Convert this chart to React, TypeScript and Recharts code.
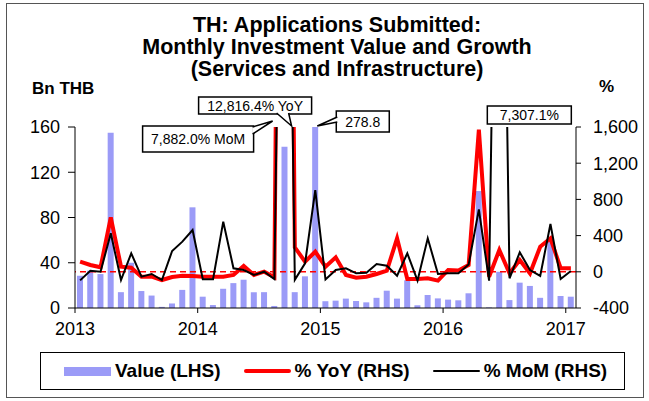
import React from "react";
import {
  ComposedChart,
  Bar,
  Line,
  XAxis,
  YAxis,
  ReferenceLine,
  ReferenceDot,
} from "recharts";

const FONT = "'Liberation Sans', Arial, Helvetica, sans-serif";

// Jan 2013 .. Jan 2017
const months = [
  "2013-01", "2013-02", "2013-03", "2013-04", "2013-05", "2013-06", "2013-07", "2013-08", "2013-09", "2013-10", "2013-11", "2013-12",
  "2014-01", "2014-02", "2014-03", "2014-04", "2014-05", "2014-06", "2014-07", "2014-08", "2014-09", "2014-10", "2014-11", "2014-12",
  "2015-01", "2015-02", "2015-03", "2015-04", "2015-05", "2015-06", "2015-07", "2015-08", "2015-09", "2015-10", "2015-11", "2015-12",
  "2016-01", "2016-02", "2016-03", "2016-04", "2016-05", "2016-06", "2016-07", "2016-08", "2016-09", "2016-10", "2016-11", "2016-12",
  "2017-01",
];

// Bn THB
const value = [
  28.5, 33, 30, 155, 14, 40, 15, 11, 1, 4, 16, 89,
  10, 2.6, 17, 22, 25, 14, 14, 1.8, 142.6, 14, 28, 278.8,
  6, 6.5, 8.3, 6.2, 5, 9, 15.3, 8.3, 24.5, 2.4, 11.5, 8.5,
  7.4, 6.8, 13, 103.4, 0.5, 32, 7, 22.4, 19.5, 9, 60, 10.6,
  10,
];

// % YoY
const yoy = [
  112, 75, 50, 602, 56, 45, -54, -54, -91, -58, -43, -47,
  -54, -54, -54, -35, 64, -35, 1, -60, 12816.4, 270, 112, 222,
  56, 160, -35, -65, -54, -24, 12, 370, -80, -80, -72, -98,
  20, 15, 75, 1570, -54, 241, -17, 130, -17, 277, 370, 39,
  39,
];

// % MoM
const mom = [
  -95, 12, 1, 425, -91, 204, -54, -24, -91, 230, 333, 462,
  -83, -83, 554, 39, 20, -35, 1, -80, 7882.0, -88, 94, 903,
  -85, 20, 39, -17, -10, 86, 67, -43, 204, -98, 370, -24,
  -17, -17, 80, 690, -98, 7307.1, -72, 215, 20, -46, 528, -80,
  9,
];

const yearTicks = [0, 12, 24, 36, 48];
const yearLabels = ["2013", "2014", "2015", "2016", "2017"];
const lhsTicks = [0, 40, 80, 120, 160];
const rhsTicks = [-400, 0, 400, 800, 1200, 1600];

const data = months.map((month, i) => ({
  x: i + 0.5,
  month,
  value: value[i],
  yoy: yoy[i],
  mom: mom[i],
}));

const fmt = (v: number, digits = 0) =>
  v.toLocaleString("en-US", {
    minimumFractionDigits: digits,
    maximumFractionDigits: digits,
  });

const yoyPeak = yoy.indexOf(Math.max(...yoy));
const momPeak = mom.indexOf(Math.max(...mom));
const valuePeak = value.indexOf(Math.max(...value));
const momSecond = mom.indexOf(
  Math.max(...mom.filter((_, i) => i !== momPeak))
);

type Pt = [number, number];

function Callout(props: any) {
  const { cx, cy, text, box, wedge } = props;
  const [x0, y0, x1, y1] = box as number[];
  const w = wedge as Pt[] | undefined;
  return (
    <g>
      <rect
        x={cx + x0}
        y={cy + y0}
        width={x1 - x0}
        height={y1 - y0}
        fill="#fff"
        stroke="#000"
        strokeWidth={1.5}
      />
      {w && (
        <>
          <polygon
            points={w.map(([a, b]) => `${cx + a},${cy + b}`).join(" ")}
            fill="#fff"
          />
          <polyline
            points={[w[0], w[2], w[1]]
              .map(([a, b]) => `${cx + a},${cy + b}`)
              .join(" ")}
            fill="none"
            stroke="#000"
            strokeWidth={1.5}
          />
        </>
      )}
      <text
        x={cx + (x0 + x1) / 2}
        y={cy + (y0 + y1) / 2}
        textAnchor="middle"
        dominantBaseline="central"
        fontSize={14}
        fontFamily={FONT}
        fill="#000"
      >
        {text}
      </text>
    </g>
  );
}

const legendItems = [
  { label: "Value (LHS)", kind: "bar", color: "#9b9bf7" },
  { label: "% YoY (RHS)", kind: "line", color: "#ff0000", width: 4 },
  { label: "% MoM (RHS)", kind: "line", color: "#000000", width: 2 },
];

export default function App() {
  return (
    <div
      style={{
        position: "absolute",
        left: 0,
        top: 0,
        width: 649,
        height: 401,
        background: "#fff",
        fontFamily: FONT,
      }}
    >
      <div
        style={{
          position: "absolute",
          left: 6,
          top: 3,
          width: 636,
          height: 393,
          border: "1px solid #555",
        }}
      />
      <div
        style={{
          position: "absolute",
          left: 117,
          top: 14,
          width: 440,
          textAlign: "center",
          fontWeight: "bold",
          fontSize: 21.5,
          lineHeight: "22px",
          color: "#000",
        }}
      >
        <div>TH: Applications Submitted:</div>
        <div>Monthly Investment Value and Growth</div>
        <div>(Services and Infrastructure)</div>
      </div>
      <div
        style={{
          position: "absolute",
          left: 32,
          top: 79,
          fontWeight: "bold",
          fontSize: 17,
        }}
      >
        Bn THB
      </div>
      <div
        style={{
          position: "absolute",
          left: 599,
          top: 77,
          fontWeight: "bold",
          fontSize: 17,
        }}
      >
        %
      </div>

      <div style={{ position: "absolute", left: 0, top: 0 }}>
        <ComposedChart
          width={649}
          height={401}
          data={data}
          margin={{ top: 127, right: 0, bottom: 63, left: 0 }}
        >
          <XAxis
            dataKey="x"
            type="number"
            domain={[0, months.length]}
            ticks={yearTicks}
            tickFormatter={(v: number) => yearLabels[yearTicks.indexOf(v)]}
            height={30}
            tickSize={5}
            tickMargin={9}
            stroke="#000"
            tick={{ fill: "#000", fontSize: 18, fontFamily: FONT }}
            interval={0}
          />
          <YAxis
            yAxisId="lhs"
            orientation="left"
            domain={[0, 160]}
            ticks={lhsTicks}
            allowDataOverflow
            width={75}
            tickSize={7}
            tickMargin={8}
            stroke="#000"
            tick={{ fill: "#000", fontSize: 18, fontFamily: FONT }}
            interval={0}
          />
          <YAxis
            yAxisId="rhs"
            orientation="right"
            domain={[-400, 1600]}
            ticks={rhsTicks}
            allowDataOverflow
            width={73}
            tickSize={5}
            tickMargin={12}
            stroke="#000"
            tickFormatter={(v: number) => fmt(v)}
            tick={{ fill: "#000", fontSize: 18, fontFamily: FONT }}
            interval={0}
          />
          <Bar
            yAxisId="lhs"
            dataKey="value"
            fill="#9b9bf7"
            barSize={6}
            isAnimationActive={false}
          />
          <ReferenceLine
            yAxisId="rhs"
            y={0}
            stroke="#ff0000"
            strokeWidth={1.5}
            strokeDasharray="6 4"
          />
          <Line
            yAxisId="rhs"
            dataKey="yoy"
            type="linear"
            stroke="#ff0000"
            strokeWidth={4}
            dot={false}
            isAnimationActive={false}
          />
          <Line
            yAxisId="rhs"
            dataKey="mom"
            type="linear"
            stroke="#000000"
            strokeWidth={2}
            dot={false}
            isAnimationActive={false}
          />
          <ReferenceDot
            yAxisId="rhs"
            x={data[yoyPeak].x}
            y={1600}
            r={1}
            ifOverflow="visible"
            shape={(p: any) => (
              <Callout
                {...p}
                text={`${fmt(yoy[yoyPeak], 1)}% YoY`}
                box={[-86, -30, 27, -13]}
                wedge={[[-8, -14], [4, -14], [7, -1]]}
              />
            )}
          />
          <ReferenceDot
            yAxisId="rhs"
            x={data[momPeak].x}
            y={1600}
            r={1}
            ifOverflow="visible"
            shape={(p: any) => (
              <Callout
                {...p}
                text={`${fmt(mom[momPeak], 1)}% MoM`}
                box={[-142, -1, -31, 25]}
                wedge={[[-32, 0], [-32, 7], [-12, -6]]}
              />
            )}
          />
          <ReferenceDot
            yAxisId="lhs"
            x={data[valuePeak].x}
            y={160}
            r={1}
            ifOverflow="visible"
            shape={(p: any) => (
              <Callout
                {...p}
                text={fmt(value[valuePeak], 1)}
                box={[21, -16, 74, 5]}
                wedge={[[22, -10], [22, -5], [2, -1]]}
              />
            )}
          />
          <ReferenceDot
            yAxisId="rhs"
            x={data[momSecond].x}
            y={1600}
            r={1}
            ifOverflow="visible"
            shape={(p: any) => (
              <Callout
                {...p}
                text={`${fmt(mom[momSecond], 1)}%`}
                box={[-12, -21, 72, -3]}
              />
            )}
          />
        </ComposedChart>
      </div>

      <div
        style={{
          position: "absolute",
          left: 40,
          top: 352,
          width: 585,
          height: 38,
          border: "1px solid #000",
          boxSizing: "border-box",
          display: "flex",
          alignItems: "center",
          paddingLeft: 23,
          gap: 23,
        }}
      >
        {legendItems.map((it) => (
          <div
            key={it.label}
            style={{ display: "flex", alignItems: "center", gap: 4 }}
          >
            <div
              style={{
                width: 47,
                height: it.kind === "bar" ? 9 : it.width,
                background: it.color,
                borderRadius: it.kind === "line" ? 2 : 0,
              }}
            />
            <span style={{ fontWeight: "bold", fontSize: 19, color: "#000" }}>
              {it.label}
            </span>
          </div>
        ))}
      </div>
    </div>
  );
}
